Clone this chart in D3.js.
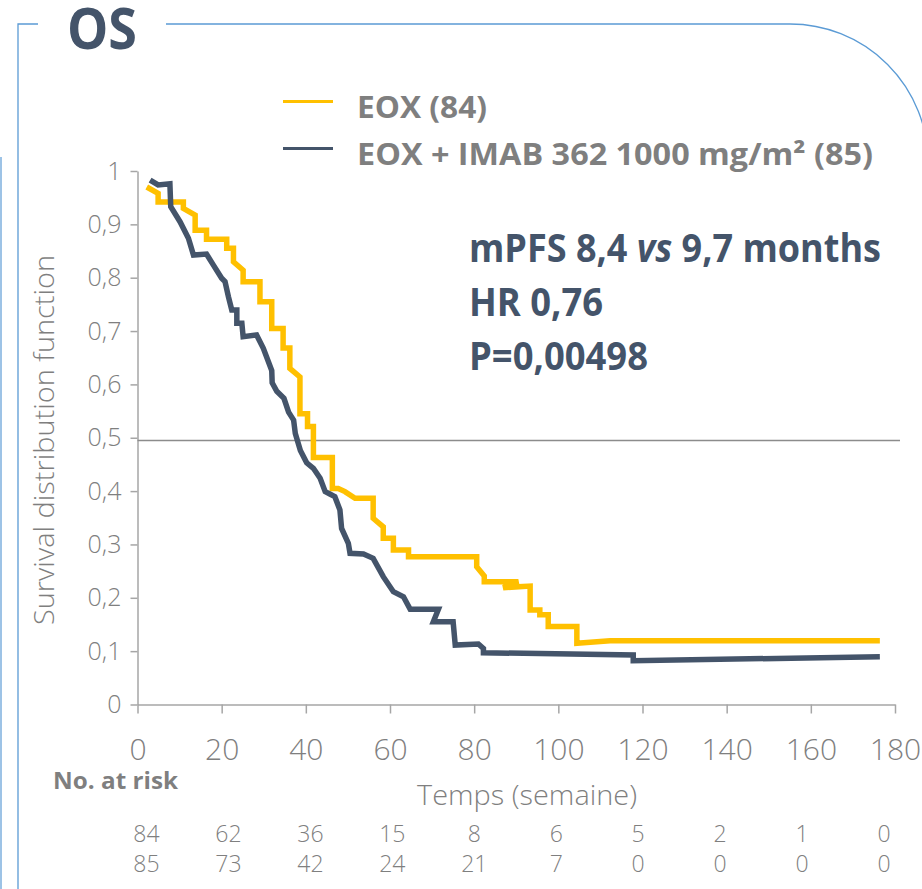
<!DOCTYPE html>
<html>
<head>
<meta charset="utf-8">
<script src="https://cdn.jsdelivr.net/npm/d3@7"></script>
<style>
  body { margin: 0; background: #fff; }
  svg { display: block; font-family: "Open Sans", sans-serif; }
</style>
</head>
<body>
<div id="chart"></div>
<script>
// axis ticks
var timeTicks = [0, 20, 40, 60, 80, 100, 120, 140, 160, 180];
var survTicks = [0, 0.1, 0.2, 0.3, 0.4, 0.5, 0.6, 0.7, 0.8, 0.9, 1];
var medianLevel = 0.495;

// EOX (84)
var eoxTime = [2.2, 4.9, 4.9, 10.9, 10.9, 13.7, 13.7, 16.4, 16.4, 21.2, 21.2, 22.8, 22.8, 25.1, 25.1, 29.1, 29.1, 31.9, 31.9, 34.6, 34.6, 36.2, 36.2, 38.6, 38.6, 40.4, 40.4, 41.8, 41.8, 46.3, 46.3, 47.7, 49.3, 51.7, 56.0, 56.0, 58.4, 58.4, 60.8, 60.8, 64.4, 64.4, 80.6, 80.6, 82.4, 82.4, 90.5, 86.9, 93.3, 93.3, 95.6, 95.6, 97.6, 97.6, 104.4, 104.4, 112.3, 176.4];
var eoxSurv = [0.970, 0.958, 0.942, 0.942, 0.930, 0.9175, 0.889, 0.889, 0.872, 0.872, 0.855, 0.855, 0.830, 0.814, 0.7925, 0.7925, 0.755, 0.755, 0.705, 0.705, 0.668, 0.668, 0.630, 0.614, 0.545, 0.545, 0.521, 0.521, 0.463, 0.463, 0.405, 0.405, 0.399, 0.3865, 0.3865, 0.349, 0.333, 0.3115, 0.3115, 0.2896, 0.2896, 0.277, 0.277, 0.258, 0.241, 0.230, 0.230, 0.219, 0.222, 0.177, 0.177, 0.168, 0.168, 0.146, 0.146, 0.1147, 0.1196, 0.1196];

// EOX + IMAB 362 (85)
var imabTime = [3.0, 4.9, 7.7, 7.9, 10.1, 12.1, 13.3, 16.4, 18.0, 20.0, 20.8, 21.6, 22.4, 23.6, 23.6, 24.8, 25.1, 28.3, 29.9, 31.9, 32.0, 33.1, 34.8, 35.9, 37.1, 37.5, 38.7, 40.2, 41.8, 43.4, 44.6, 45.7, 46.9, 48.1, 48.5, 50.1, 50.5, 53.7, 56.0, 58.4, 60.8, 63.2, 64.8, 71.5, 70.3, 75.0, 75.5, 81.0, 82.2, 82.2, 117.8, 117.8, 176.4];
var imabSurv = [0.983, 0.974, 0.976, 0.933, 0.905, 0.874, 0.8425, 0.8444, 0.824, 0.799, 0.7925, 0.7644, 0.7395, 0.7395, 0.7145, 0.7145, 0.6894, 0.6926, 0.6677, 0.626, 0.603, 0.587, 0.574, 0.548, 0.533, 0.508, 0.476, 0.453, 0.4427, 0.424, 0.399, 0.3946, 0.3895, 0.3646, 0.330, 0.302, 0.2834, 0.282, 0.274, 0.2396, 0.2114, 0.202, 0.1784, 0.1784, 0.155, 0.155, 0.1115, 0.1134, 0.105, 0.097, 0.0928, 0.082, 0.0896];

// number at risk
var riskEox = [84, 62, 36, 15, 8, 6, 5, 2, 1, 0];
var riskImab = [85, 73, 42, 24, 21, 7, 0, 0, 0, 0];

var series = [
  {name: "EOX (84)", color: "#FFC000", time: eoxTime, surv: eoxSurv},
  {name: "EOX + IMAB 362 1000 mg/m² (85)", color: "#44546A", time: imabTime, surv: imabSurv}
];

var width = 922, height = 889;
var gray = "#7f7f7f", slate = "#44546A", frameBlue = "#5B9BD5";

var svg = d3.select("#chart").append("svg")
  .attr("width", width)
  .attr("height", height);

// frame
svg.append("path")
  .attr("d", "M38,24H18V889M166,24H790A138,138 0 0 1 928,162")
  .attr("fill", "none")
  .attr("stroke", frameBlue)
  .attr("stroke-width", 1.3);
svg.append("line")
  .attr("x1", 1).attr("x2", 1).attr("y1", 157).attr("y2", 889)
  .attr("stroke", "#9DC3E6").attr("stroke-width", 2);

function fit(sel, len) {
  sel.attr("textLength", len).attr("lengthAdjust", "spacingAndGlyphs");
  return sel;
}

svg.append("text")
  .attr("x", 67).attr("y", 49)
  .attr("font-size", 57).attr("font-weight", 700)
  .attr("fill", slate)
  .text("OS")
  .call(fit, 70);

var x = d3.scaleLinear().domain([0, 180]).range([137.5, 895]);
var y = d3.scaleLinear().domain([0, 1]).range([704.5, 171]);

// axes
var yAxis = svg.append("g")
  .attr("transform", "translate(" + x(0) + ",0)")
  .call(d3.axisLeft(y).tickValues(survTicks).tickSize(7).tickSizeOuter(0).tickPadding(9)
    .tickFormat(function(d) { return d === 0 || d === 1 ? String(d) : d.toFixed(1).replace(".", ","); }));

var xAxis = svg.append("g")
  .attr("transform", "translate(0," + y(0) + ")")
  .call(d3.axisBottom(x).tickValues(timeTicks).tickSize(9).tickSizeOuter(0));

[yAxis, xAxis].forEach(function(g) {
  g.selectAll("path, line").attr("stroke", "#A6A6A6").attr("stroke-width", 1.5);
  g.selectAll("text").attr("fill", gray).attr("font-family", "Open Sans").attr("font-weight", 300);
});
yAxis.selectAll("text").attr("font-size", 25);
xAxis.selectAll("text").attr("font-size", 30).attr("dy", null).attr("y", 55);

// median reference line
svg.append("line")
  .attr("x1", x(0)).attr("x2", 900)
  .attr("y1", y(medianLevel)).attr("y2", y(medianLevel))
  .attr("stroke", "#8c8c8c").attr("stroke-width", 1.5);

// curves
var line = d3.line()
  .x(function(d) { return x(d[0]); })
  .y(function(d) { return y(d[1]); });

svg.append("g").selectAll("path")
  .data(series)
  .enter()
  .append("path")
  .attr("d", function(s) { return line(d3.zip(s.time, s.surv)); })
  .attr("fill", "none")
  .attr("stroke", function(s) { return s.color; })
  .attr("stroke-width", 5.5)
  .attr("stroke-linejoin", "miter");

// legend
var legend = svg.append("g").selectAll("g")
  .data(series)
  .enter()
  .append("g")
  .attr("transform", function(d, i) { return "translate(283," + (101.5 + i * 47) + ")"; });
legend.append("line")
  .attr("x1", 0).attr("x2", 50)
  .attr("stroke", function(d) { return d.color; })
  .attr("stroke-width", 3);
legend.append("text")
  .attr("x", 74).attr("y", 16)
  .attr("font-size", 30).attr("font-weight", 700)
  .attr("fill", gray)
  .text(function(d) { return d.name; })
  .each(function(d, i) { d3.select(this).call(fit, i === 0 ? 130 : 516); });

// stats
var stats = svg.append("g").attr("fill", slate).attr("font-weight", 700).attr("font-size", 40);
var l1 = stats.append("text").attr("x", 469).attr("y", 262);
l1.append("tspan").text("mPFS 8,4 ");
l1.append("tspan").attr("font-style", "italic").text("vs");
l1.append("tspan").text(" 9,7 months");
l1.call(fit, 412);
stats.append("text").attr("x", 469).attr("y", 316).text("HR 0,76").call(fit, 134);
stats.append("text").attr("x", 469).attr("y", 370).text("P=0,00498").call(fit, 179);

// axis titles
svg.append("text")
  .attr("transform", "translate(54,440) rotate(-90)")
  .attr("text-anchor", "middle")
  .attr("font-size", 28).attr("font-weight", 300)
  .attr("fill", gray)
  .text("Survival distribution function")
  .call(fit, 370);

svg.append("text")
  .attr("x", 417).attr("y", 805)
  .attr("font-size", 28).attr("font-weight", 300)
  .attr("fill", gray)
  .text("Temps (semaine)")
  .call(fit, 220);

svg.append("text")
  .attr("x", 53).attr("y", 789)
  .attr("font-size", 23).attr("font-weight", 700)
  .attr("fill", gray)
  .text("No. at risk")
  .call(fit, 125);

// risk table
var xr = d3.scaleLinear().domain([0, 180]).range([146.5, 884]);
[riskEox, riskImab].forEach(function(row, r) {
  svg.append("g").selectAll("text")
    .data(row)
    .enter()
    .append("text")
    .attr("x", function(d, i) { return xr(timeTicks[i]); })
    .attr("y", 842 + r * 30)
    .attr("text-anchor", "middle")
    .attr("font-size", 23).attr("font-weight", 300)
    .attr("fill", gray)
    .text(function(d) { return d; });
});
</script>
</body>
</html>
